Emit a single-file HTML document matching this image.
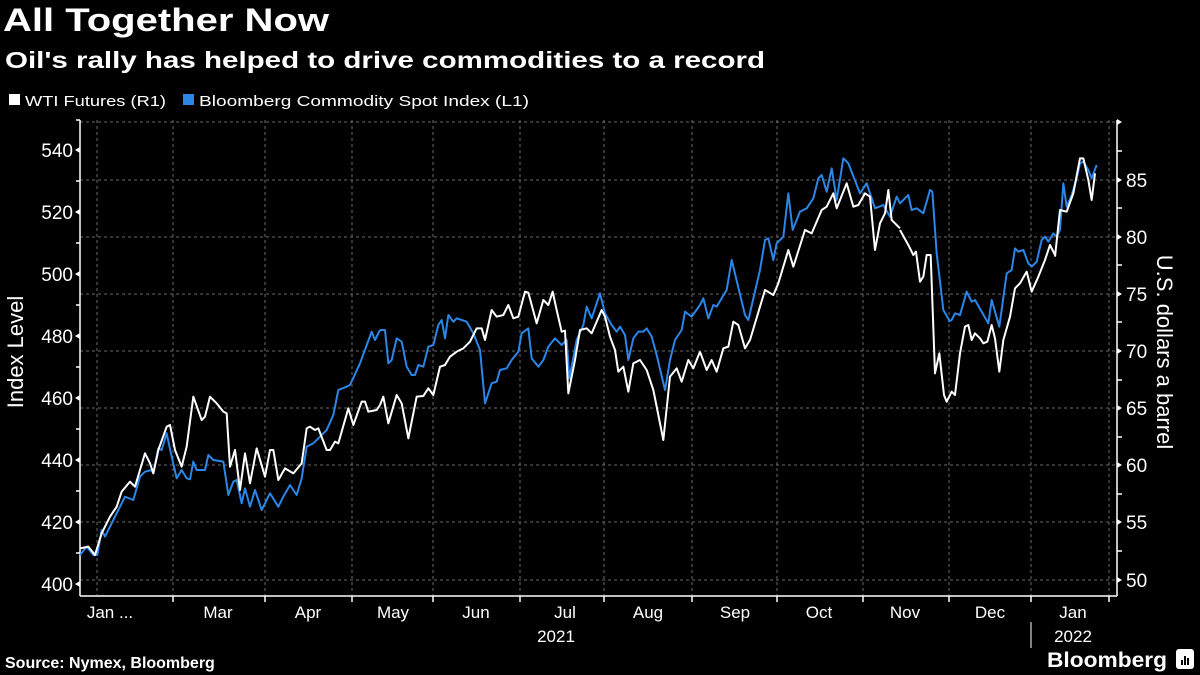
<!DOCTYPE html>
<html><head><meta charset="utf-8"><style>
html,body{margin:0;padding:0;background:#000;}
svg{display:block}
text{font-family:"Liberation Sans",sans-serif;fill:#fff}
.g{stroke:#6a6a6a;stroke-width:1;stroke-dasharray:3,3;fill:none}
.w{fill:none;stroke:#fff;vector-effect:non-scaling-stroke;stroke-linejoin:round;stroke-width:2}
.b{fill:none;stroke:#2b86e8;vector-effect:non-scaling-stroke;stroke-linejoin:round;stroke-width:2}
</style></head><body>
<svg width="1200" height="675" viewBox="0 0 1200 675">
<rect width="1200" height="675" fill="#000"/>
<text x="3" y="31" font-size="32" font-weight="bold" textLength="326" lengthAdjust="spacingAndGlyphs">All Together Now</text>
<text x="5" y="68" font-size="23" font-weight="bold" textLength="760" lengthAdjust="spacingAndGlyphs">Oil's rally has helped to drive commodities to a record</text>
<rect x="9" y="94" width="11" height="11" fill="#fff"/>
<text x="25" y="106" font-size="15" textLength="141" lengthAdjust="spacingAndGlyphs">WTI Futures (R1)</text>
<rect x="183" y="94" width="11" height="11" fill="#2b86e8"/>
<text x="199" y="106" font-size="15" textLength="330" lengthAdjust="spacingAndGlyphs">Bloomberg Commodity Spot Index  (L1)</text>

<g class="g">
<line x1="80" y1="122" x2="1117" y2="122"/><line x1="80" y1="180" x2="1117" y2="180"/><line x1="80" y1="237" x2="1117" y2="237"/><line x1="80" y1="294" x2="1117" y2="294"/><line x1="80" y1="351" x2="1117" y2="351"/><line x1="80" y1="408" x2="1117" y2="408"/><line x1="80" y1="465" x2="1117" y2="465"/><line x1="80" y1="522" x2="1117" y2="522"/><line x1="80" y1="580" x2="1117" y2="580"/>
<line x1="97" y1="120" x2="97" y2="595"/><line x1="173" y1="120" x2="173" y2="595"/><line x1="265" y1="120" x2="265" y2="595"/><line x1="352" y1="120" x2="352" y2="595"/><line x1="433" y1="120" x2="433" y2="595"/><line x1="520" y1="120" x2="520" y2="595"/><line x1="604" y1="120" x2="604" y2="595"/><line x1="692" y1="120" x2="692" y2="595"/><line x1="777" y1="120" x2="777" y2="595"/><line x1="863" y1="120" x2="863" y2="595"/><line x1="949" y1="120" x2="949" y2="595"/><line x1="1031" y1="120" x2="1031" y2="595"/><line x1="1109" y1="120" x2="1109" y2="595"/>
</g>
<g stroke="#fff" stroke-width="1.5" fill="none">
<line x1="80" y1="120" x2="80" y2="596"/><line x1="1117" y1="120" x2="1117" y2="596"/><line x1="80" y1="596" x2="1117" y2="596"/>
<line x1="76" y1="120" x2="80" y2="120"/><line x1="76" y1="181" x2="80" y2="181"/><line x1="76" y1="243" x2="80" y2="243"/><line x1="76" y1="305" x2="80" y2="305"/><line x1="76" y1="367" x2="80" y2="367"/><line x1="76" y1="429" x2="80" y2="429"/><line x1="76" y1="491" x2="80" y2="491"/><line x1="76" y1="553" x2="80" y2="553"/>
<line x1="1117" y1="151" x2="1122" y2="151"/><line x1="1117" y1="208" x2="1122" y2="208"/><line x1="1117" y1="265" x2="1122" y2="265"/><line x1="1117" y1="322" x2="1122" y2="322"/><line x1="1117" y1="380" x2="1122" y2="380"/><line x1="1117" y1="437" x2="1122" y2="437"/><line x1="1117" y1="494" x2="1122" y2="494"/><line x1="1117" y1="551" x2="1122" y2="551"/>
<line x1="173" y1="596" x2="173" y2="602"/><line x1="265" y1="596" x2="265" y2="602"/><line x1="352" y1="596" x2="352" y2="602"/><line x1="433" y1="596" x2="433" y2="602"/><line x1="520" y1="596" x2="520" y2="602"/><line x1="604" y1="596" x2="604" y2="602"/><line x1="692" y1="596" x2="692" y2="602"/><line x1="777" y1="596" x2="777" y2="602"/><line x1="863" y1="596" x2="863" y2="602"/><line x1="949" y1="596" x2="949" y2="602"/><line x1="1031" y1="596" x2="1031" y2="602"/><line x1="1109" y1="596" x2="1109" y2="602"/>
<line x1="1031" y1="622" x2="1031" y2="648" stroke-width="1"/>
</g>
<g fill="#fff">
<path d="M80,147 l-5,3 l5,3z"/><path d="M80,209 l-5,3 l5,3z"/><path d="M80,271 l-5,3 l5,3z"/><path d="M80,333 l-5,3 l5,3z"/><path d="M80,395 l-5,3 l5,3z"/><path d="M80,457 l-5,3 l5,3z"/><path d="M80,519 l-5,3 l5,3z"/><path d="M80,581 l-5,3 l5,3z"/>
<path d="M1117,119 l5,3 l-5,3z"/><path d="M1117,177 l5,3 l-5,3z"/><path d="M1117,234 l5,3 l-5,3z"/><path d="M1117,291 l5,3 l-5,3z"/><path d="M1117,348 l5,3 l-5,3z"/><path d="M1117,405 l5,3 l-5,3z"/><path d="M1117,462 l5,3 l-5,3z"/><path d="M1117,519 l5,3 l-5,3z"/><path d="M1117,577 l5,3 l-5,3z"/>
</g>
<g font-size="19" text-anchor="end">
<text x="73" y="157">540</text><text x="73" y="219">520</text><text x="73" y="281">500</text><text x="73" y="343">480</text><text x="73" y="405">460</text><text x="73" y="467">440</text><text x="73" y="529">420</text><text x="73" y="591">400</text>
</g>
<g font-size="19">
<text x="1126" y="187">85</text><text x="1126" y="244">80</text><text x="1126" y="301">75</text><text x="1126" y="358">70</text><text x="1126" y="415">65</text><text x="1126" y="472">60</text><text x="1126" y="529">55</text><text x="1126" y="587">50</text>
</g>
<text transform="translate(23,352) rotate(-90)" font-size="22" text-anchor="middle">Index Level</text>
<text transform="translate(1157,352) rotate(90)" font-size="22" text-anchor="middle">U.S. dollars a barrel</text>
<g font-size="17" text-anchor="middle">
<text x="110" y="618">Jan ...</text><text x="218" y="618">Mar</text><text x="308" y="618">Apr</text><text x="393" y="618">May</text><text x="476" y="618">Jun</text><text x="565" y="618">Jul</text><text x="648" y="618">Aug</text><text x="735" y="618">Sep</text><text x="819" y="618">Oct</text><text x="905" y="618">Nov</text><text x="990" y="618">Dec</text><text x="1073" y="618">Jan</text>
<text x="556" y="642">2021</text><text x="1073" y="642">2022</text>
</g>
<text x="5" y="668" font-size="16" font-weight="bold">Source: Nymex, Bloomberg</text>
<text x="1047" y="667" font-size="21" font-weight="bold" textLength="120" lengthAdjust="spacingAndGlyphs">Bloomberg</text>
<rect x="1176" y="649" width="18" height="20" rx="3" fill="#fff"/>
<g fill="#000"><rect x="1181" y="660" width="2" height="5"/><rect x="1184" y="656" width="2" height="9"/><rect x="1187" y="658" width="2" height="7"/></g>

<g transform="translate(80,270) scale(0.3333333)">
<polyline class="b" points="0,855 20,830 40,855 52,855 65,780 75,800 90,770 110,730 135,680 160,690 180,620 195,605 215,600 220,610 235,535 245,540 260,490 275,560 290,625 305,600 320,625 330,628 340,575 350,600 375,600 385,555 400,570 430,575 445,675 460,635 470,630 485,700 495,655 510,710 525,660 545,720 570,670 595,710 610,680 630,645 650,675 665,625 680,530 700,520 720,500 740,480 760,435 775,360 800,350 810,345 840,280 875,185 885,210 900,180"/>
<polyline class="w" points="0,835 25,830 45,855 65,790 90,740 110,710 125,665 150,635 165,650 180,600 195,550 210,580 220,610 235,540 260,470 270,465 285,540 305,590 320,530 340,380 365,450 375,440 390,380 410,400 430,425 440,430 450,590 465,540 480,660 495,550 510,640 530,535 555,620 570,540 580,540 595,630 615,595 640,610 665,580 680,475 690,470 705,480 715,475 740,540 750,540 765,515 775,520 805,415 820,465 845,395 855,395 865,425 890,420 900,405"/>
</g>
<g transform="translate(370,270) scale(0.3333333)">
<polyline class="b" points="30,180 45,180 55,280 65,270 80,205 95,215 110,290 125,315 135,315 145,285 160,290 175,230 190,225 205,165 215,150 225,205 235,135 250,155 260,145 290,155 310,190 330,240 345,400 365,340 380,335 390,300 410,295 425,270 445,245 455,190 475,175 485,265 505,290 520,270 535,230 555,205 575,225 590,210 598,325 620,210 640,165 650,110 665,145 690,70 705,130 725,165 740,185 750,170 765,195 775,270 790,205 805,185 820,185 830,175 845,200 860,255 885,360 900,270 915,210 935,180 945,125 965,140 990,105"/>
<polyline class="w" points="30,405 40,380 55,460 80,375 95,400 115,505 140,380 160,378 175,355 190,375 210,290 225,285 240,260 260,245 280,235 300,215 320,175 335,175 345,210 365,120 380,140 400,135 415,105 430,145 445,140 465,65 475,68 500,160 520,90 535,105 548,65 560,120 575,185 585,182 595,370 615,270 630,180 650,175 665,190 695,120 705,140 720,200 735,240 745,305 760,290 775,365 790,280 810,270 830,300 850,360 880,510 900,320 920,295 935,335 955,270 970,295 990,245"/>
</g>
<g transform="translate(690,140) scale(0.3333333)">
<polyline class="b" points="30,495 40,475 55,535 70,495 80,500 110,450 125,360 165,525 175,540 210,390 225,300 235,295 250,360 260,310 280,290 295,160 308,270 330,215 350,205 370,175 385,115 395,105 410,155 425,85 440,180 460,55 475,70 510,160 530,130 555,205 580,195 600,230 620,170 630,190 655,165 665,210 680,205 700,220 720,150 727,155 740,340 760,510 780,545"/>
<polyline class="w" points="30,635 50,690 65,660 80,695 100,625 115,620 130,545 145,555 165,625 180,600 210,500 225,450 250,465 265,430 295,330 310,380 345,270 365,280 395,210 410,200 430,160 440,205 460,155 470,130 490,200 505,195 525,160 540,170 555,330 570,250 585,220 595,150 605,240 630,265"/>
</g>
<g transform="translate(900,230) scale(0.3333333)">
<polyline class="b" points="145,275 155,270 165,250 180,255 200,185 215,215 225,210 245,245 265,280 275,210 285,245 298,290 320,130 335,120 345,55 355,65 370,60 385,100 395,110 410,95 425,30 435,20 445,35 460,10 470,20 480,0"/>
<polyline class="w" points="0,0 25,45 40,75 48,65 60,155 70,140 80,75 92,75 105,430 118,370 132,495 140,515 155,485 165,495 180,370 195,290 205,285 215,330 225,310 240,325 250,340 262,335 275,285 285,325 298,425 310,330 330,260 345,175 360,160 380,125 395,185 415,140 435,90 450,45 465,75"/>
</g>
<g transform="translate(900,100) scale(0.3333333)">
<polyline class="b" points="480,390 490,250 500,320 515,285 530,235 540,190 550,185 565,210 575,235 590,195"/>
<polyline class="w" points="465,470 480,330 500,335 520,280 540,175 550,175 565,240 575,300 585,220"/>
</g>
</svg>
</body></html>
